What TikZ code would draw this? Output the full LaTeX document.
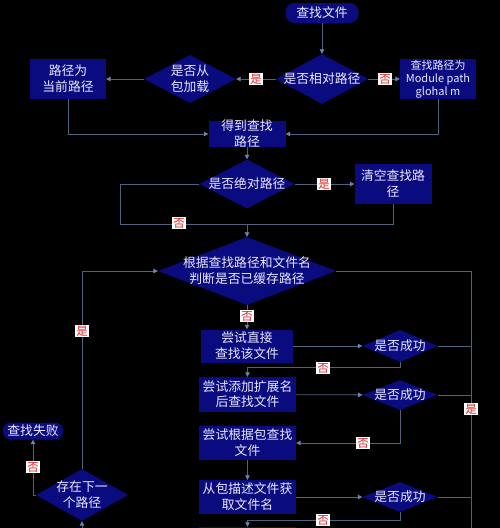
\documentclass[tikz,border=0pt]{standalone}
\usepackage{fontspec}
\setmainfont{Noto Sans CJK SC}
\usetikzlibrary{shapes.geometric,arrows.meta}
\definecolor{nfill}{HTML}{0B0B80}
\definecolor{ntext}{HTML}{E8E8FF}
\definecolor{lcol}{HTML}{52627A}
\definecolor{acol}{HTML}{6A86AE}
\definecolor{lred}{HTML}{E02828}
\newcommand\Tx[1]{\makebox[0pt]{\raisebox{-0.35em}[0pt][0pt]{\begin{tabular}{@{}c@{}}#1\end{tabular}}}}
\begin{document}
\begin{tikzpicture}[x=1pt,y=-1pt,
 base/.style={fill=nfill,text=ntext,inner sep=0pt,font=\fontsize{12.8}{15.5}\selectfont},
 box/.style={base,rectangle},
 pill/.style={base,rectangle,rounded corners=9pt},
 dia/.style={base,diamond},
 line/.style={draw=lcol,line width=0.8pt},
 arr/.style={line,-{Triangle[length=4.5pt,width=4.5pt,color=acol,fill=acol]}},
 lab/.style={fill=white,text=lred,inner sep=1pt,font=\fontsize{11.5}{13}\selectfont}]
\fill[black] (0,0) rectangle (500,528);
\useasboundingbox (0,0) rectangle (500,528);
\clip (0,0) rectangle (500,528);

% nodes
\node[pill,minimum width=73pt,minimum height=20pt] (start) at (322,13) {\Tx{查找文件}};
\node[dia,minimum width=92pt,minimum height=50pt] (rel) at (322,79) {\Tx{是否相对路径}};
\node[dia,minimum width=92pt,minimum height=48pt] (pkg) at (190,79) {\Tx{是否从\\包加载}};
\node[box,minimum width=76pt,minimum height=40pt] (cur) at (68,79) {\Tx{路径为\\当前路径}};
\node[box,minimum width=76pt,minimum height=40pt,font=\fontsize{11}{13}\selectfont] (mod) at (438,79) {\Tx{查找路径为\\Module path\\glohal m}};
\node[box,minimum width=77pt,minimum height=26pt] (get) at (247,134) {\Tx{得到查找\\路径}};
\node[dia,minimum width=95pt,minimum height=49pt] (abs) at (247,184) {\Tx{是否绝对路径}};
\node[box,minimum width=77pt,minimum height=40pt] (clr) at (393,184) {\Tx{清空查找路\\径}};
\node[dia,minimum width=178pt,minimum height=68pt] (cache) at (247,271) {\Tx{根据查找路径和文件名\\判断是否已缓存路径}};
\node[box,minimum width=92pt,minimum height=33pt] (try1) at (247,346) {\Tx{尝试直接\\查找该文件}};
\node[dia,minimum width=75pt,minimum height=32pt] (ok1) at (400,346) {\Tx{是否成功}};
\node[box,minimum width=97pt,minimum height=35pt] (try2) at (247.5,394.5) {\Tx{尝试添加扩展名\\后查找文件}};
\node[dia,minimum width=75pt,minimum height=30pt] (ok2) at (400,395) {\Tx{是否成功}};
\node[box,minimum width=97pt,minimum height=34pt] (try3) at (247.5,443) {\Tx{尝试根据包查找\\文件}};
\node[box,minimum width=97pt,minimum height=34pt] (try4) at (247.5,497) {\Tx{从包描述文件获\\取文件名}};
\node[dia,minimum width=75pt,minimum height=30pt] (ok3) at (400,497) {\Tx{是否成功}};
\node[box,minimum width=97pt,minimum height=35pt] (try5) at (247.5,544.5) {};
\node[pill,minimum width=60pt,minimum height=17pt,rounded corners=8pt] (fail) at (33,431) {\Tx{查找失败}};
\node[dia,minimum width=92pt,minimum height=52pt] (next) at (82,495) {\Tx{存在下一\\个路径}};

\coordinate (bin) at (82,545);
\coordinate (rbot) at (471,545);
\coordinate (j1) at (247,224);

% connectors
\draw[arr] (start) -- (rel);
\draw[arr] (rel) -- (pkg);
\draw[arr] (rel) -- (mod);
\draw[arr] (pkg) -- (cur);
\draw[arr] (cur.south) |- (get.west);
\draw[arr] (mod.south) |- (get.east);
\draw[arr] (get) -- (abs);
\draw[arr] (abs) -- (clr);
\draw[line] (abs.west) -- (120,184) |- (j1);
\draw[line] (clr.south) |- (j1);
\draw[arr] (j1) -- (cache.north);
\draw[arr] (cache) -- (try1);
\draw[arr] (try1) -- (ok1);
\draw[arr] (ok1.south) -- (400,367) -| (try2.north);
\draw[line] (cache.east) -| (rbot);
\draw[line] (ok1.east) -- (ok1.east -| rbot);
\draw[arr] (try2) -- (ok2);
\draw[line] (ok2.east) -- (ok2.east -| rbot);
\draw[arr] (ok2.south) |- (try3.east);
\draw[arr] (try3) -- (try4);
\draw[arr] (try4) -- (ok3);
\draw[line] (ok3.east) -- (ok3.east -| rbot);
\draw[arr] (ok3.south) -- (400,520) -| (try5.north);
\draw[arr] (next.north) |- (cache.west);
\draw[arr] (next.west) -| (fail.south);
\draw[arr] (bin) -- (next.south);

% labels
\node[lab] (l1) at (256,79) {是};
\node[lab] (l2) at (385,79) {否};
\node[lab] (l3) at (324,184) {是};
\node[lab] (l4) at (179,223) {否};
\node[lab] (l5) at (247,316) {否};
\node[lab] (l6) at (323,368) {否};
\node[lab] (l7) at (471,409) {是};
\node[lab] (l8) at (363,443) {否};
\node[lab] (l9) at (323,520) {否};
\node[lab] (l10) at (82,331) {是};
\node[lab] (l11) at (33,467) {否};
\end{tikzpicture}
\end{document}
